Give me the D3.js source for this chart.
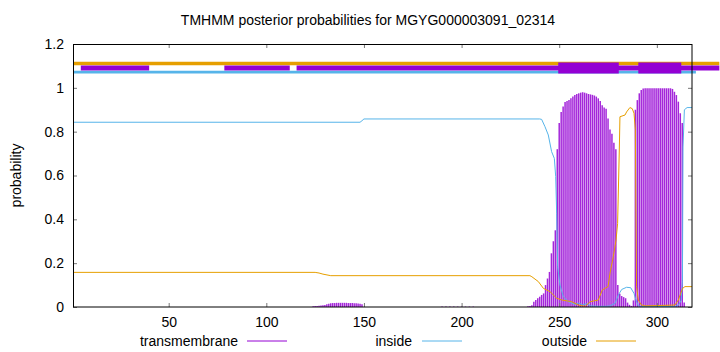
<!DOCTYPE html>
<html>
<head>
<meta charset="utf-8">
<script src="https://cdn.jsdelivr.net/npm/d3@7"></script>
<style>
  body { margin: 0; background: #fff; }
  svg text { font-family: "Liberation Sans", Arial, sans-serif; fill: #000; }
</style>
</head>
<body>
<div id="chart"></div>
<script>
// TMHMM posterior probability plot

const seqLength = 318;
const xTicks = [50, 100, 150, 200, 250, 300];
const yTicks = [0, 0.2, 0.4, 0.6, 0.8, 1, 1.2];
const yTickLabels = ['0', '0.2', '0.4', '0.6', '0.8', '1', '1.2'];

// inside probability
const insideCurve = [
  [1, 0.843], [148, 0.843], [149, 0.85], [150, 0.858], [240, 0.858], [241, 0.856],
  [242.7, 0.823], [244.4, 0.785], [246.1, 0.709], [247.5, 0.678], [248.2, 0.595],
  [248.7, 0.427], [249.2, 0.184], [250.4, 0.1], [252.1, 0.047], [254.7, 0.024],
  [256.5, 0.017], [258, 0.012], [260, 0.018], [262, 0.01], [264, 0.015], [266, 0.005],
  [270, 0.003], [274, 0.003], [276, 0.005], [278.6, 0.017], [280.3, 0.055],
  [282, 0.08], [284.5, 0.09], [286.6, 0.088], [288.3, 0.062], [289.3, 0.032],
  [290.5, 0.005], [292, 0.002], [309, 0.002], [311, 0.008], [312.5, 0.03],
  [313.1, 0.12], [313.4, 0.73], [314.1, 0.9], [315.5, 0.91], [318, 0.91]
];

// outside probability
const outsideCurve = [
  [1, 0.158], [125, 0.158], [127, 0.155], [129, 0.15], [133, 0.143], [235, 0.143],
  [236, 0.138], [239.3, 0.116], [241.9, 0.085], [245.3, 0.07], [248.7, 0.04],
  [251.3, 0.032], [256.4, 0.024], [259.8, 0.009], [263.3, 0.003], [265.8, 0.024],
  [270, 0.032], [272.1, 0.078], [275, 0.093], [276, 0.154], [277.7, 0.23],
  [279.1, 0.306], [279.9, 0.38], [280.8, 0.73], [281.1, 0.868], [283.7, 0.876],
  [284.5, 0.89], [286.2, 0.91], [287.4, 0.905], [288.3, 0.884], [289, 0.81],
  [289.3, 0.43], [289.6, 0.093], [290.5, 0.032], [292, 0.01], [294, 0.005],
  [309.3, 0.009], [311, 0.032], [312.2, 0.062], [313.2, 0.085], [314.4, 0.093],
  [318, 0.093]
];

// transmembrane probability per residue (impulses)
const tmImpulses = [
  [124, 0.003], [125, 0.004], [126, 0.005], [127, 0.006], [128, 0.007], [129, 0.008],
  [130, 0.009], [131, 0.012], [132, 0.015], [133, 0.017], [134, 0.018], [135, 0.018],
  [136, 0.019], [137, 0.019], [138, 0.019], [139, 0.019], [140, 0.019], [141, 0.019],
  [142, 0.018], [143, 0.018], [144, 0.018], [145, 0.017], [146, 0.017], [147, 0.016],
  [148, 0.015], [149, 0.012],
  [190, 0.002], [192, 0.002], [194, 0.002], [196, 0.002], [198, 0.002], [200, 0.002],
  [202, 0.002], [204, 0.002], [206, 0.002],
  [234, 0.003], [235, 0.005], [236, 0.008], [237, 0.024], [238, 0.032], [239, 0.04],
  [240, 0.047], [241, 0.055], [242, 0.062], [243, 0.1], [244, 0.13], [245, 0.16],
  [246, 0.245], [247, 0.3], [248, 0.35], [249, 0.72], [250, 0.84], [251, 0.89],
  [252, 0.915], [253, 0.935], [254, 0.94], [255, 0.945], [256, 0.952], [257, 0.96],
  [258, 0.967], [259, 0.972], [260, 0.975], [261, 0.978], [262, 0.98], [263, 0.978],
  [264, 0.975], [265, 0.972], [266, 0.97], [267, 0.968], [268, 0.965], [269, 0.96],
  [270, 0.952], [271, 0.94], [272, 0.92], [273, 0.91], [274, 0.905], [275, 0.86],
  [276, 0.81], [277, 0.79], [278, 0.75], [279, 0.72], [280, 0.1], [281, 0.06],
  [282, 0.05], [283, 0.045], [284, 0.04], [285, 0.02], [286, 0.01], [287, 0.005],
  [288, 0.03], [289, 0.9], [290, 0.944], [291, 0.975], [292, 0.99], [293, 0.997],
  [294, 0.998], [295, 0.998], [296, 0.998], [297, 0.998], [298, 0.998], [299, 0.998],
  [300, 0.998], [301, 0.998], [302, 0.998], [303, 0.998], [304, 0.998], [305, 0.998],
  [306, 0.998], [307, 0.998], [308, 0.995], [309, 0.982], [310, 0.967], [311, 0.937],
  [312, 0.884], [313, 0.84], [314, 0.02]
];

// predicted topology bars along the top
const outsideBars = [[1, 332]];
const insideBars = [[1, 320]];
const tmThinBars = [[5, 40], [78.5, 112], [115.5, 332]];
const tmThickBars = [[249.5, 280.5], [290.5, 312.5]];

const colors = { tm: '#9400d3', inside: '#56b4e9', outside: '#e69f00' };

const margin = { top: 44, right: 28, bottom: 45, left: 73 };
const width = 720 - margin.left - margin.right;   // 619
const height = 352 - margin.top - margin.bottom;  // 263

const svg = d3.select('#chart').append('svg')
  .attr('width', 720)
  .attr('height', 352);

const g = svg.append('g')
  .attr('transform', `translate(${margin.left},${margin.top})`);

const x = d3.scaleLinear().domain([1, seqLength]).range([0, width]);
const y = d3.scaleLinear().domain([0, 1.2]).range([height, 0]);

g.append('clipPath').attr('id', 'plot-clip')
  .append('rect').attr('width', width).attr('height', height);

// Title
svg.append('text')
  .attr('x', 368)
  .attr('y', 25)
  .attr('text-anchor', 'middle')
  .style('font-size', '14px')
  .text('TMHMM posterior probabilities for MGYG000003091_02314');

// Impulses
const plot = g.append('g').attr('clip-path', 'url(#plot-clip)');

plot.selectAll('.impulse')
  .data(tmImpulses)
  .enter()
  .append('line')
  .attr('x1', d => x(d[0]))
  .attr('x2', d => x(d[0]))
  .attr('y1', y(0))
  .attr('y2', d => y(d[1]))
  .attr('stroke', colors.tm)
  .attr('stroke-opacity', 0.85)
  .attr('stroke-width', 1.5);

const line = d3.line().x(d => x(d[0])).y(d => y(d[1]));

plot.append('path')
  .datum(insideCurve)
  .attr('d', line)
  .attr('fill', 'none')
  .attr('stroke', colors.inside)
  .attr('stroke-width', 1);

plot.append('path')
  .datum(outsideCurve)
  .attr('d', line)
  .attr('fill', 'none')
  .attr('stroke', colors.outside)
  .attr('stroke-width', 1);

// Topology bars (not clipped, they run past the frame like gnuplot arrows)
const drawBars = (segs, level, thick, color) => {
  g.selectAll(null)
    .data(segs)
    .enter()
    .append('line')
    .attr('x1', d => x(d[0]))
    .attr('x2', d => x(d[1]))
    .attr('y1', y(level))
    .attr('y2', y(level))
    .attr('stroke', color)
    .attr('stroke-width', thick);
};
drawBars(outsideBars, 1.111, 3.4, colors.outside);
drawBars(insideBars, 1.072, 2.8, colors.inside);
drawBars(tmThinBars, 1.0905, 5, colors.tm);
drawBars(tmThickBars, 1.0905, 11, colors.tm);

// Axes with inward ticks, mirrored on top and right
const styleAxis = sel => {
  sel.select('.domain').remove();
  sel.selectAll('.tick line').attr('stroke', '#777');
  sel.selectAll('.tick text')
    .style('font-size', '14px')
    .style('font-family', '"Liberation Sans", Arial, sans-serif')
    .attr('fill', '#000');
};

g.append('g')
  .attr('transform', `translate(0,${height})`)
  .call(d3.axisBottom(x).tickValues(xTicks).tickSize(-4).tickPadding(10))
  .call(styleAxis);

g.append('g')
  .call(d3.axisTop(x).tickValues(xTicks).tickSize(-4).tickFormat(''))
  .call(styleAxis);

g.append('g')
  .call(d3.axisLeft(y).tickValues(yTicks).tickSize(-4).tickPadding(9)
    .tickFormat((d, i) => yTickLabels[i]))
  .call(styleAxis);

g.append('g')
  .attr('transform', `translate(${width},0)`)
  .call(d3.axisRight(y).tickValues(yTicks).tickSize(-4).tickFormat(''))
  .call(styleAxis);

// Frame
g.append('rect')
  .attr('x', 0.5)
  .attr('y', 0.5)
  .attr('width', width - 0.5)
  .attr('height', height - 0.5)
  .attr('fill', 'none')
  .attr('stroke', '#000')
  .attr('stroke-width', 1);

// Y label
svg.append('text')
  .attr('transform', 'rotate(-90)')
  .attr('x', -(margin.top + height / 2))
  .attr('y', 21)
  .attr('text-anchor', 'middle')
  .style('font-size', '14px')
  .text('probability');

// Legend
const legendItems = [
  { label: 'transmembrane', color: colors.tm, textEnd: 238, lineStart: 247 },
  { label: 'inside', color: colors.inside, textEnd: 412, lineStart: 422 },
  { label: 'outside', color: colors.outside, textEnd: 587, lineStart: 596 }
];

legendItems.forEach(item => {
  svg.append('text')
    .attr('x', item.textEnd)
    .attr('y', 346)
    .attr('text-anchor', 'end')
    .style('font-size', '14px')
    .text(item.label);
  svg.append('line')
    .attr('x1', item.lineStart)
    .attr('x2', item.lineStart + 40)
    .attr('y1', 341)
    .attr('y2', 341)
    .attr('stroke', item.color)
    .attr('stroke-width', 1);
});
</script>
</body>
</html>
